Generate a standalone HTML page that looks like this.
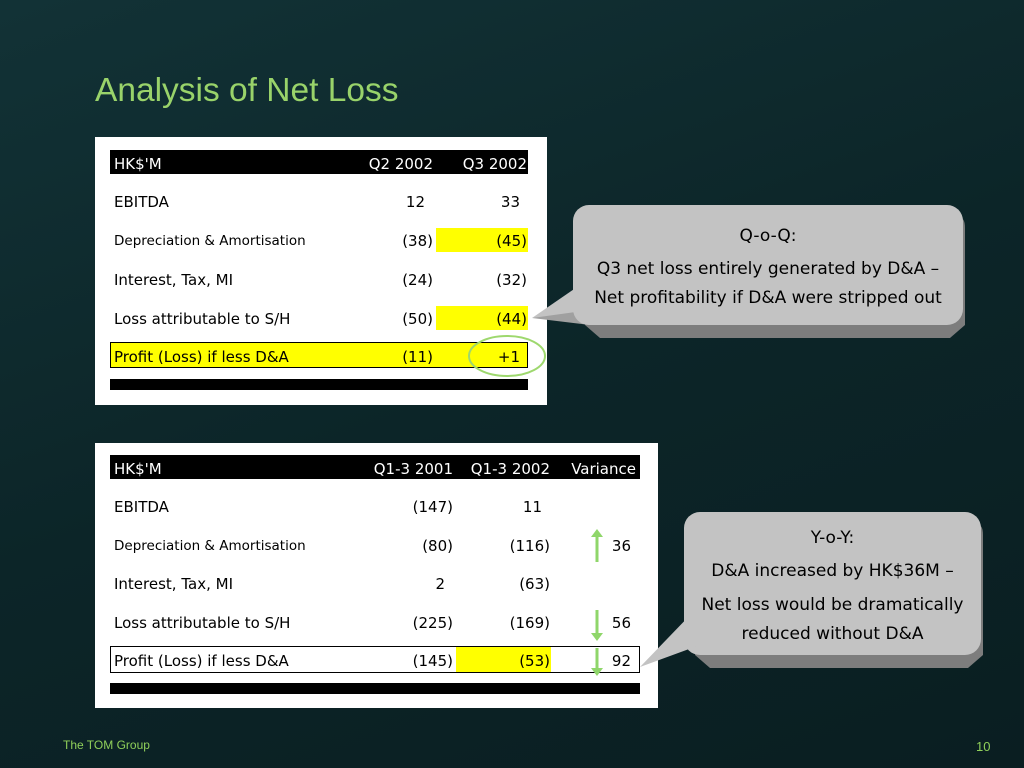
<!DOCTYPE html>
<html><head><meta charset="utf-8"><style>
body{margin:0;width:1024px;height:768px;overflow:hidden;font-family:"DejaVu Sans","Liberation Sans",sans-serif;}
#bg{position:absolute;left:0;top:0;width:1024px;height:768px;background:linear-gradient(160deg,#123236 0%,#0c2528 50%,#0a1e21 100%);}
.t{position:absolute;white-space:nowrap;font-size:15px;color:#000;line-height:1;margin-top:2px;}
.w{color:#fff}
.r{text-align:right}
</style></head><body>
<div id="bg"></div>
<div class="t" style="left:95px;top:72px;font-size:33.5px;color:#99d36a;font-family:'Liberation Sans',sans-serif;">Analysis of Net Loss</div>

<!-- Table 1 -->
<div style="position:absolute;left:95px;top:137px;width:452px;height:268px;background:#fff;"></div>
<div style="position:absolute;left:110px;top:150px;width:418px;height:24px;background:#000;"></div>
<div style="position:absolute;left:436px;top:228px;width:92px;height:24px;background:#ffff00;"></div>
<div style="position:absolute;left:436px;top:306px;width:92px;height:24px;background:#ffff00;"></div>
<div style="position:absolute;left:110px;top:342px;width:416px;height:24px;background:#ffff00;border:1px solid #000;"></div>
<div style="position:absolute;left:110px;top:379px;width:418px;height:11px;background:#000;"></div>

<div class="t w" style="left:114px;top:155px;">HK$'M</div>
<div class="t w r" style="left:333px;width:100px;top:155px;">Q2 2002</div>
<div class="t w r" style="left:427px;width:100px;top:155px;">Q3 2002</div>

<div class="t" style="left:114px;top:193px;">EBITDA</div>
<div class="t r" style="left:325px;width:100px;top:193px;">12</div>
<div class="t r" style="left:420px;width:100px;top:193px;">33</div>

<div class="t" style="left:114px;top:233px;font-size:13.5px;">Depreciation &amp; Amortisation</div>
<div class="t r" style="left:333px;width:100px;top:232px;">(38)</div>
<div class="t r" style="left:427px;width:100px;top:232px;">(45)</div>

<div class="t" style="left:114px;top:271px;">Interest, Tax, MI</div>
<div class="t r" style="left:333px;width:100px;top:271px;">(24)</div>
<div class="t r" style="left:427px;width:100px;top:271px;">(32)</div>

<div class="t" style="left:114px;top:310px;">Loss attributable to S/H</div>
<div class="t r" style="left:333px;width:100px;top:310px;">(50)</div>
<div class="t r" style="left:427px;width:100px;top:310px;">(44)</div>

<div class="t" style="left:114px;top:348px;">Profit (Loss) if less D&amp;A</div>
<div class="t r" style="left:333px;width:100px;top:348px;">(11)</div>
<div class="t r" style="left:420px;width:100px;top:348px;">+1</div>

<!-- Table 2 -->
<div style="position:absolute;left:95px;top:443px;width:563px;height:265px;background:#fff;"></div>
<div style="position:absolute;left:110px;top:455px;width:530px;height:24px;background:#000;"></div>
<div style="position:absolute;left:110px;top:646px;width:528px;height:25px;background:#fff;border:1px solid #000;"></div>
<div style="position:absolute;left:456px;top:647px;width:95px;height:25px;background:#ffff00;"></div>
<div style="position:absolute;left:110px;top:683px;width:530px;height:11px;background:#000;"></div>

<div class="t w" style="left:114px;top:460px;">HK$'M</div>
<div class="t w r" style="left:333px;width:120px;top:460px;">Q1-3 2001</div>
<div class="t w r" style="left:430px;width:120px;top:460px;">Q1-3 2002</div>
<div class="t w r" style="left:536px;width:100px;top:460px;">Variance</div>

<div class="t" style="left:114px;top:498px;">EBITDA</div>
<div class="t r" style="left:353px;width:100px;top:498px;">(147)</div>
<div class="t r" style="left:442px;width:100px;top:498px;">11</div>

<div class="t" style="left:114px;top:538px;font-size:13.5px;">Depreciation &amp; Amortisation</div>
<div class="t r" style="left:353px;width:100px;top:537px;">(80)</div>
<div class="t r" style="left:450px;width:100px;top:537px;">(116)</div>
<div class="t r" style="left:531px;width:100px;top:537px;">36</div>

<div class="t" style="left:114px;top:575px;">Interest, Tax, MI</div>
<div class="t r" style="left:345px;width:100px;top:575px;">2</div>
<div class="t r" style="left:450px;width:100px;top:575px;">(63)</div>

<div class="t" style="left:114px;top:614px;">Loss attributable to S/H</div>
<div class="t r" style="left:353px;width:100px;top:614px;">(225)</div>
<div class="t r" style="left:450px;width:100px;top:614px;">(169)</div>
<div class="t r" style="left:531px;width:100px;top:614px;">56</div>

<div class="t" style="left:114px;top:652px;">Profit (Loss) if less D&amp;A</div>
<div class="t r" style="left:353px;width:100px;top:652px;">(145)</div>
<div class="t r" style="left:450px;width:100px;top:652px;">(53)</div>
<div class="t r" style="left:531px;width:100px;top:652px;">92</div>

<svg width="1024" height="768" style="position:absolute;left:0;top:0">
  <ellipse cx="507" cy="356" rx="38" ry="20" fill="none" stroke="#9ed86e" stroke-width="2"/>
  <g stroke="#8fd66a" stroke-width="3" fill="#8fd66a">
    <line x1="597" y1="562" x2="597" y2="535"/>
    <polygon points="591,537 597,529 603,537" stroke="none"/>
    <line x1="597" y1="610" x2="597" y2="635"/>
    <polygon points="591,633 597,641 603,633" stroke="none"/>
    <line x1="597" y1="648" x2="597" y2="670"/>
    <polygon points="591,668 597,676 603,668" stroke="none"/>
  </g>
  <g>
    <path d="M585,218 L960,218 Q965,218 965,228 L965,325 L950,338 L600,338 L585,325 Z" fill="#7d7d7d"/>
    <path d="M590,300 L532,318 L590,325 Z" fill="#a0a0a0"/>
    <rect x="573" y="205" width="390" height="120" rx="16" fill="#c3c3c3"/>
    <path d="M580,285 L532,318 L590,310 Z" fill="#c3c3c3"/>
  </g>
  <g>
    <path d="M695,525 L978,525 Q983,525 983,535 L983,655 L968,668 L710,668 L695,655 Z" fill="#7d7d7d"/>
    <rect x="684" y="512" width="297" height="143" rx="16" fill="#c3c3c3"/>
    <path d="M695,610 L640,667 L700,645 Z" fill="#c3c3c3"/>
  </g>
</svg>
<div class="t" style="left:573px;width:390px;text-align:center;top:226px;font-size:17px;">Q-o-Q:</div>
<div class="t" style="left:573px;width:390px;text-align:center;top:259px;font-size:17px;">Q3 net loss entirely generated by D&amp;A –</div>
<div class="t" style="left:573px;width:390px;text-align:center;top:288px;font-size:17px;">Net profitability if D&amp;A were stripped out</div>

<div class="t" style="left:684px;width:297px;text-align:center;top:528px;font-size:17px;">Y-o-Y:</div>
<div class="t" style="left:684px;width:297px;text-align:center;top:561px;font-size:17px;">D&amp;A increased by HK$36M –</div>
<div class="t" style="left:684px;width:297px;text-align:center;top:595px;font-size:17px;">Net loss would be dramatically</div>
<div class="t" style="left:684px;width:297px;text-align:center;top:624px;font-size:17px;">reduced without D&amp;A</div>

<div class="t" style="left:63px;top:737px;font-size:12px;color:#8fcf5a;font-family:'Liberation Sans',sans-serif;">The TOM Group</div>
<div class="t" style="left:976px;top:738px;font-size:13px;color:#8fcf5a;font-family:'Liberation Sans',sans-serif;">10</div>
</body></html>
